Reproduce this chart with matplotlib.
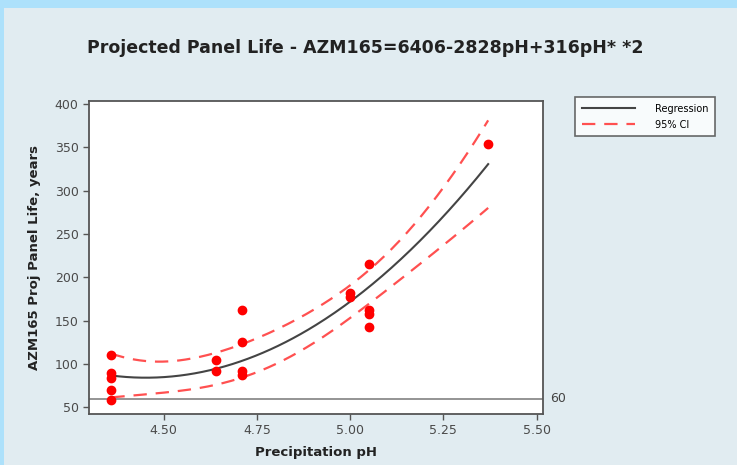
import numpy as np
import matplotlib
matplotlib.use("Agg")
import matplotlib.pyplot as plt
from matplotlib.patches import Rectangle

# data
ph = [4.36, 4.36, 4.36, 4.36, 4.36,
      4.64, 4.64,
      4.71, 4.71, 4.71, 4.71,
      5.00, 5.00,
      5.05, 5.05, 5.05, 5.05,
      5.37]
life = [111, 90, 84, 70, 59,
        105, 92,
        162, 125, 92, 88,
        182, 177,
        215, 162, 158, 143,
        354]
ref_value = 60
x_ticks = [4.50, 4.75, 5.00, 5.25, 5.50]
y_ticks = [50, 100, 150, 200, 250, 300, 350, 400]

x = np.array(ph)
y = np.array(life)

# quadratic regression with 95% CI of the mean
X = np.column_stack([np.ones_like(x), x, x ** 2])
beta, *_ = np.linalg.lstsq(X, y, rcond=None)
resid = y - X @ beta
dof = len(x) - 3
s2 = resid @ resid / dof
XtX_inv = np.linalg.inv(X.T @ X)
t_crit = 2.131  # t(0.975, 15)

xs = np.linspace(x.min(), x.max(), 200)
Xs = np.column_stack([np.ones_like(xs), xs, xs ** 2])
fit = Xs @ beta
se = np.sqrt(s2 * np.einsum("ij,jk,ik->i", Xs, XtX_inv, Xs))
lo = fit - t_crit * se
hi = fit + t_crit * se

fig = plt.figure(figsize=(7.37, 4.65), dpi=100)
fig.patch.set_facecolor("#ade1fb")
fig.patches.append(Rectangle((4 / 737, 0), 1, 1 - 8 / 465, transform=fig.transFigure,
                             facecolor="#e1ecf1", edgecolor="none", zorder=-10))

ax = fig.add_axes([89 / 737, 1 - 414 / 465, (543 - 89) / 737, (414 - 101) / 465])
ax.set_facecolor("white")

ax.axhline(ref_value, color="#777777", lw=1.1, zorder=1)
ax.plot(xs, fit, color="#444444", lw=1.5, label="Regression", zorder=2)
ax.plot(xs, lo, color="#ff5050", lw=1.6, ls=(0, (6, 4)), label="95% CI", zorder=2)
ax.plot(xs, hi, color="#ff5050", lw=1.6, ls=(0, (6, 4)), zorder=2)
ax.plot(x, y, "o", color="#ff0000", ms=6, zorder=3)

ax.set_xlim(4.30, 5.517)
ax.set_ylim(42.5, 403.5)
ax.set_xticks(x_ticks)
ax.set_xticklabels(["%.2f" % v for v in x_ticks])
ax.set_yticks(y_ticks)
ax.tick_params(direction="out", length=4, width=1, color="#555555",
               labelcolor="#4a4a4a", labelsize=9)
for sp in ax.spines.values():
    sp.set_color("#555555")
    sp.set_linewidth(1.3)

ax.text(1.015, ref_value, str(ref_value), transform=ax.get_yaxis_transform(),
        va="center", ha="left", fontsize=9, color="#444444")

ax.set_xlabel("Precipitation pH", fontsize=9.5, fontweight="bold", color="#222222", labelpad=6)
ax.set_ylabel("AZM165 Proj Panel Life, years", fontsize=9.5, fontweight="bold",
              color="#222222", labelpad=10)

fig.text(365 / 737, 1 - 48 / 465,
         "Projected Panel Life - AZM165=6406-2828pH+316pH* *2",
         ha="center", va="center", fontsize=12.5, fontweight="bold", color="#222222")

leg = fig.legend(loc="upper left", bbox_to_anchor=(570 / 737, 1 - 92 / 465),
                 fontsize=7, frameon=True, fancybox=False, handlelength=5.5,
                 handletextpad=2.0, borderpad=0.7, labelspacing=0.6)
leg.get_frame().set_edgecolor("#444444")
leg.get_frame().set_linewidth(1.2)
leg.get_frame().set_facecolor("white")

fig.savefig("out.png", dpi=100, facecolor=fig.get_facecolor())
